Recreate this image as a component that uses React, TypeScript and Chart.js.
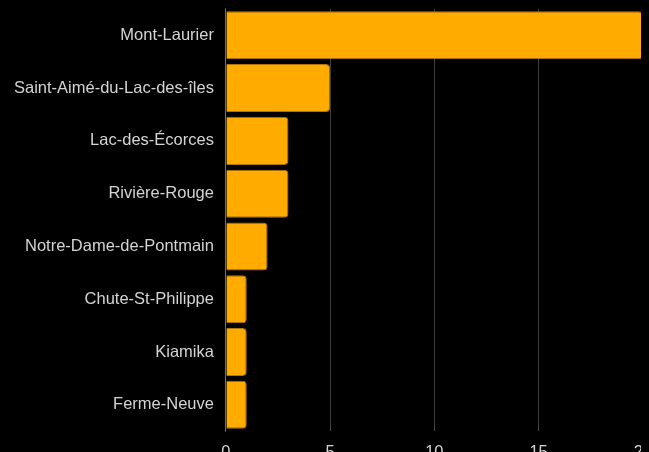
import React, { useEffect, useRef } from "react";
import { Chart, registerables } from "chart.js";

Chart.register(...registerables);

const categories = [
  "Mont-Laurier",
  "Saint-Aimé-du-Lac-des-îles",
  "Lac-des-Écorces",
  "Rivière-Rouge",
  "Notre-Dame-de-Pontmain",
  "Chute-St-Philippe",
  "Kiamika",
  "Ferme-Neuve",
];
const values = [20, 5, 3, 3, 2, 1, 1, 1];
const xMin = 0;
const xMax = 20;
const xStep = 5;

export default function App() {
  const ref = useRef<HTMLCanvasElement | null>(null);

  useEffect(() => {
    document.body.style.background = "#000";
    const chart = new Chart(ref.current!, {
      type: "bar",
      data: {
        labels: categories,
        datasets: [
          {
            data: values,
            backgroundColor: "#FFAB00",
            borderColor: "#B07600",
            borderWidth: 1,
            borderSkipped: "start",
            borderRadius: 4,
            barPercentage: 0.91,
            categoryPercentage: 1,
          },
        ],
      },
      options: {
        indexAxis: "y",
        animation: false,
        responsive: true,
        maintainAspectRatio: false,
        layout: { padding: { left: 2 } },
        plugins: { legend: { display: false }, tooltip: { enabled: false } },
        scales: {
          x: {
            min: xMin,
            max: xMax,
            ticks: {
              stepSize: xStep,
              color: "#d4d4d4",
              font: { family: "Liberation Sans", size: 16.5 },
            },
            grid: {
              color: "rgba(255,255,255,0.25)",
              tickColor: "rgba(0,0,0,0)",
            },
            border: { display: false },
          },
          y: {
            ticks: {
              color: "#d4d4d4",
              padding: 4,
              font: { family: "Liberation Sans", size: 16.5 },
            },
            grid: { display: false, drawTicks: true },
            border: { color: "rgba(255,255,255,0.25)" },
          },
        },
      },
    });
    return () => chart.destroy();
  }, []);

  return (
    <div style={{ width: 647, height: 470, marginTop: -13, position: "relative" }}>
      <canvas ref={ref} />
    </div>
  );
}
